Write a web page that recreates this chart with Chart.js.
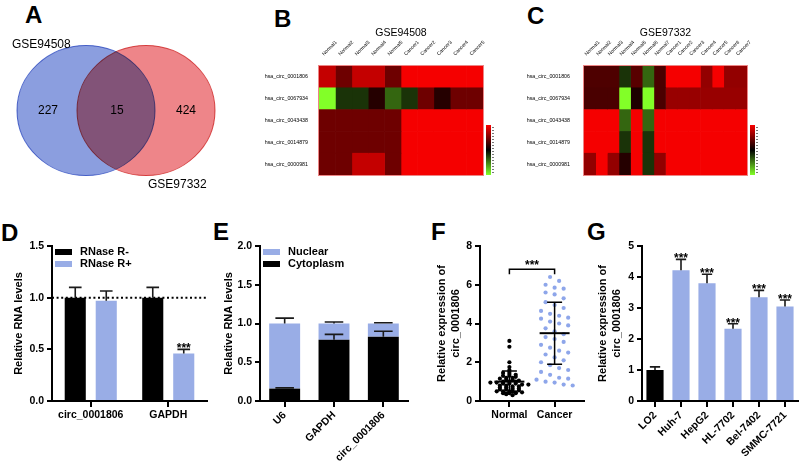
<!DOCTYPE html>
<html><head><meta charset="utf-8">
<script src="https://cdn.jsdelivr.net/npm/chart.js@4.4.0/dist/chart.umd.min.js"></script>
<style>
html,body{margin:0;padding:0;background:#fff;width:800px;height:467px;overflow:hidden;}
body{position:relative;font-family:"Liberation Sans",Arial,Helvetica,sans-serif;}
canvas{position:absolute;}
.lbl{position:absolute;font:bold 24px "Liberation Sans",Arial,sans-serif;color:#000;line-height:1;}
</style></head><body>
<div class="lbl" style="left:25px;top:3px">A</div>
<div class="lbl" style="left:274px;top:7px">B</div>
<div class="lbl" style="left:527px;top:4px">C</div>
<div class="lbl" style="left:1px;top:221px">D</div>
<div class="lbl" style="left:213px;top:220px">E</div>
<div class="lbl" style="left:431px;top:220px">F</div>
<div class="lbl" style="left:587px;top:220px">G</div>
<canvas id="cA" width="230" height="165" style="left:0;top:28px"></canvas>
<canvas id="cB" width="300" height="170" style="left:200px;top:20px"></canvas>
<canvas id="cC" width="320" height="170" style="left:480px;top:20px"></canvas>
<canvas id="cD" width="207" height="231" style="left:8px;top:236px"></canvas>
<canvas id="cE" width="192" height="231" style="left:218px;top:236px"></canvas>
<canvas id="cF" width="160" height="231" style="left:431px;top:236px"></canvas>
<canvas id="cG" width="208" height="231" style="left:592px;top:236px"></canvas>
<script>
// ---------------- DATA ----------------
// A: Venn
const vennSets = ['GSE94508', 'GSE97332'];
const vennCounts = [227, 15, 424];          // only-left, overlap, only-right

// B / C: heatmaps
const heatRows = ['hsa_circ_0001806','hsa_circ_0067934','hsa_circ_0043438','hsa_circ_0014879','hsa_circ_0000981'];
const heatColsB = ['Normal1','Normal2','Normal3','Normal4','Normal5','Cancer1','Cancer2','Cancer3','Cancer4','Cancer5'];
const heatB_0001806 = [0.8, 0.45, 0.8, 0.8, 0.45, 1, 1, 1, 1, 1];
const heatB_0067934 = [-1, -0.2, -0.2, 0.15, -0.4, -0.2, 0.45, 0.15, 0.45, 0.45];
const heatB_0043438 = [0.45, 0.45, 0.45, 0.45, 0.45, 1, 1, 1, 1, 1];
const heatB_0014879 = [0.45, 0.45, 0.45, 0.45, 0.45, 1, 1, 1, 1, 1];
const heatB_0000981 = [0.45, 0.45, 0.8, 0.8, 0.45, 1, 1, 1, 1, 1];
const heatColsC = ['Normal1','Normal2','Normal3','Normal4','Normal5','Normal6','Normal7','Cancer1','Cancer2','Cancer3','Cancer4','Cancer5','Cancer6','Cancer7'];
const heatC_0001806 = [0.32, 0.32, 0.32, -0.2, 0.36, -0.4, 0.3, 1, 1, 1, 0.6, 1, 0.6, 0.6];
const heatC_0067934 = [0.3, 0.3, 0.3, -1, 0.12, -1, 0.3, 0.62, 0.62, 0.62, 0.62, 0.62, 0.62, 0.62];
const heatC_0043438 = [1, 1, 1, -0.4, 1, -0.4, 1, 1, 1, 1, 1, 1, 1, 1];
const heatC_0014879 = [1, 1, 1, -0.2, 1, -0.2, 1, 1, 1, 1, 1, 1, 1, 1];
const heatC_0000981 = [0.6, 1, 0.6, 0.15, 1, -0.2, 0.6, 1, 1, 1, 1, 1, 1, 1];

// D: RNase R
const dGroups = ['circ_0001806', 'GAPDH'];
const dRnaseMinus = [1.00, 1.00];
const dRnaseMinusErr = [0.10, 0.10];
const dRnasePlus = [0.97, 0.46];
const dRnasePlusErr = [0.095, 0.04];
const dPlusStars = ['', '***'];

// E: subcellular fractionation
const eGenes = ['U6', 'GAPDH', 'circ_0001806'];
const eCytoplasm = [0.16, 0.79, 0.83];
const eCytoplasmErr = [0.01, 0.07, 0.07];
const eNuclear = [0.84, 0.21, 0.17];
const eNuclearErr = [0.07, 0.02, 0.01];

// F: tissues
const fGroups = ['Normal', 'Cancer'];
const fNormal = [3.1, 2.8, 2.0, 1.75, 1.6, 1.5, 1.45, 1.4, 1.35, 1.3, 1.3, 1.25, 1.2, 1.2, 1.15, 1.1, 1.1, 1.05, 1.0, 1.0,
  1.0, 0.95, 0.95, 0.9, 0.9, 0.9, 0.85, 0.85, 0.8, 0.8, 0.75, 0.75, 0.7, 0.7, 0.65, 0.65, 0.6, 0.6, 0.55, 0.55,
  0.5, 0.5, 0.5, 0.45, 0.45, 0.4, 0.4, 0.4, 0.35, 0.3];
const fCancer = [6.4, 6.2, 6.0, 5.85, 5.8, 5.6, 5.5, 5.3, 5.1, 4.95, 4.8, 4.65, 4.5, 4.4, 4.3, 4.25, 4.1, 4.0, 3.9, 3.75,
  3.6, 3.45, 3.3, 3.2, 3.05, 2.9, 2.75, 2.6, 2.5, 2.4, 2.25, 2.1, 2.0, 1.85, 1.7, 1.6, 1.5, 1.35, 1.2, 1.15,
  1.1, 1.0, 0.95, 0.85, 0.8];
const fMean = [1.0, 3.5];
const fSD = [0.55, 1.6];
const fBracket = 6.8;

// G: cell lines
const gLines = ['LO2', 'Huh-7', 'HepG2', 'HL-7702', 'Bel-7402', 'SMMC-7721'];
const gValues = [1.0, 4.22, 3.80, 2.33, 3.35, 3.05];
const gErrors = [0.10, 0.35, 0.29, 0.16, 0.22, 0.21];
const gStars = ['', '***', '***', '***', '***', '***'];

// ---------------- STYLE ----------------
const FONT = '"Liberation Sans", Arial, Helvetica, sans-serif';
const BLUE = '#99ade6';
const PBLUE = '#8ea6ea';
Chart.defaults.font.family = FONT;
Chart.defaults.color = '#000';
Chart.defaults.animation = false;
Chart.defaults.plugins.legend.display = false;
Chart.defaults.plugins.tooltip.enabled = false;

function heatColor(v) {
  if (v >= 0) return `rgb(${Math.round(245 * v)},0,0)`;
  const t = -v;
  return `rgb(${Math.round(130 * t)},${Math.round(255 * t)},${Math.round(40 * t)})`;
}

function yAxis(min, max, step, title, width, dec) {
  return {
    min, max,
    ticks: { stepSize: step, font: { size: 10.5, weight: 'bold' }, color: '#000', padding: 3,
      callback: v => v.toFixed(dec) },
    grid: { drawOnChartArea: false, color: '#000', tickColor: '#000', tickLength: 5, tickWidth: 2, lineWidth: 2 },
    border: { color: '#000', width: 2 },
    title: { display: true, text: title, font: { size: 11, weight: 'bold', lineHeight: 1.3 }, color: '#000', padding: { top: 4, bottom: 2 } },
    afterFit(ax) { ax.width = width; }
  };
}
function xCatAxis(rot, height) {
  return {
    offset: true,
    ticks: { font: { size: 10.5, weight: 'bold' }, color: '#000', padding: 2, autoSkip: false, minRotation: rot, maxRotation: rot },
    grid: { offset: false, drawOnChartArea: false, color: '#000', tickColor: '#000', tickLength: 6, tickWidth: 2, lineWidth: 2 },
    border: { color: '#000', width: 2 },
    afterFit(ax) { ax.height = height; }
  };
}

// error bars + stars
function errorBarsPlugin(errLists, starLists, stacked) {
  return {
    id: 'errbars',
    afterDatasetsDraw(chart) {
      const ctx = chart.ctx, ys = chart.scales.y;
      chart.data.datasets.forEach((ds, di) => {
        const errs = errLists[di];
        if (!errs) return;
        const meta = chart.getDatasetMeta(di);
        meta.data.forEach((bar, i) => {
          let top = ds.data[i];
          if (stacked) { top = 0; for (let k = 0; k <= di; k++) top += chart.data.datasets[k].data[i]; }
          const y0 = ys.getPixelForValue(top), y1 = ys.getPixelForValue(top + errs[i]);
          const half = bar.width * 0.3;
          ctx.save();
          ctx.strokeStyle = '#1a1a1a'; ctx.lineWidth = 1.6;
          ctx.beginPath();
          ctx.moveTo(bar.x, y0); ctx.lineTo(bar.x, y1);
          ctx.moveTo(bar.x - half, y1); ctx.lineTo(bar.x + half, y1);
          ctx.stroke();
          const s = starLists && starLists[di] ? starLists[di][i] : '';
          if (s) {
            ctx.fillStyle = '#000'; ctx.font = 'bold 12px ' + FONT;
            ctx.textAlign = 'center'; ctx.textBaseline = 'alphabetic';
            ctx.fillText(s, bar.x, y1 + 3);
          }
          ctx.restore();
        });
      });
    }
  };
}
function boxLegendPlugin(order) {
  return {
    id: 'boxlegend',
    afterDraw(chart) {
      const { ctx, chartArea: a } = chart;
      ctx.save();
      order.forEach((di, k) => {
        const ds = chart.data.datasets[di];
        const y = a.top + 6 + k * 12;
        ctx.fillStyle = ds.backgroundColor;
        ctx.fillRect(a.left + 3, y - 3, 17, 6);
        ctx.fillStyle = '#000'; ctx.font = 'bold 11px ' + FONT;
        ctx.textAlign = 'left'; ctx.textBaseline = 'middle';
        ctx.fillText(ds.label, a.left + 28, y);
      });
      ctx.restore();
    }
  };
}

// ---------------- A: Venn ----------------
const VENN_R = 69, VENN_SQUASH = 65 / 69;
const vennPlugin = {
  id: 'venn',
  beforeDatasetsDraw(chart) {
    const ctx = chart.ctx, cy = chart.scales.y.getPixelForValue(0);
    ctx.save(); ctx.translate(0, cy); ctx.scale(1, VENN_SQUASH); ctx.translate(0, -cy);
  },
  beforeDatasetDraw(chart) {
    chart.ctx.globalCompositeOperation = 'multiply';
  },
  afterDatasetDraw(chart) {
    chart.ctx.globalCompositeOperation = 'source-over';
  },
  afterDatasetsDraw(chart) {
    const ctx = chart.ctx;
    ctx.restore();
    ctx.globalCompositeOperation = 'source-over';
    const b = chart.getDatasetMeta(0).data[0], r = chart.getDatasetMeta(1).data[0];
    const rad = chart.data.datasets[0].data[0].r;
    const xs = [((b.x - rad) + (r.x - rad)) / 2, ((r.x - rad) + (b.x + rad)) / 2, ((b.x + rad) + (r.x + rad)) / 2];
    ctx.save();
    ctx.fillStyle = '#000'; ctx.font = '12px ' + FONT; ctx.textAlign = 'center'; ctx.textBaseline = 'middle';
    vennCounts.forEach((c, i) => ctx.fillText(String(c), xs[i] + 1, b.y));
    ctx.textAlign = 'left'; ctx.textBaseline = 'alphabetic';
    ctx.fillText(vennSets[0], b.x - rad - 5, b.y - 63);
    ctx.fillText(vennSets[1], r.x + 2, r.y + 77);
    ctx.restore();
  }
};
new Chart(document.getElementById('cA'), {
  type: 'bubble',
  data: { datasets: [
    { label: vennSets[0], data: [{ x: 0, y: 0, r: VENN_R }], backgroundColor: 'rgba(72,102,205,0.63)', borderColor: 'rgba(70,100,205,0.9)', borderWidth: 1, clip: false },
    { label: vennSets[1], data: [{ x: 1, y: 0, r: VENN_R }], backgroundColor: 'rgba(226,52,58,0.6)', borderColor: 'rgba(215,60,60,0.9)', borderWidth: 1, clip: false }
  ] },
  options: {
    responsive: false, devicePixelRatio: 1, layout: { padding: 0, autoPadding: false },
    scales: { x: { display: false, min: -1.4333, max: 2.4 }, y: { display: false, min: -1, max: 1 } }
  },
  plugins: [vennPlugin]
});

// ---------------- B / C: heatmaps ----------------
function heatmap(id, title, cols, matrix, yWidth, rightPad, labelPad) {
  const hmPlugin = {
    id: 'hm',
    afterDraw(chart) {
      const { ctx, chartArea: a } = chart;
      ctx.save();
      ctx.strokeStyle = 'rgba(235,120,120,0.9)'; ctx.lineWidth = 1;
      ctx.strokeRect(a.left - 0.5, a.top - 0.5, a.right - a.left + 1, a.bottom - a.top + 1);
      ctx.fillStyle = '#000'; ctx.font = '10.5px ' + FONT; ctx.textAlign = 'center'; ctx.textBaseline = 'middle';
      ctx.fillText(title, (a.left + a.right) / 2, a.top - 33);
      // colour key
      const x = a.right + 3, y0 = a.bottom - 50, h = 50;
      const g = ctx.createLinearGradient(0, y0, 0, y0 + h);
      g.addColorStop(0, 'rgb(250,0,0)'); g.addColorStop(0.5, 'rgb(0,0,0)'); g.addColorStop(1, 'rgb(130,255,40)');
      ctx.fillStyle = g; ctx.fillRect(x, y0, 5, h);
      ctx.fillStyle = '#777';
      for (let k = 0; k < 16; k++) ctx.fillRect(x + 6, y0 + 2 + k * 3, 2, 1);
      ctx.restore();
    }
  };
  return new Chart(document.getElementById(id), {
    type: 'bar',
    data: {
      labels: heatRows,
      datasets: cols.map((c, ci) => ({
        label: c,
        data: heatRows.map(() => 1),
        backgroundColor: heatRows.map((r, ri) => heatColor(matrix[ri][ci])),
        borderWidth: 0, barPercentage: 1, categoryPercentage: 1
      }))
    },
    options: {
      responsive: false, devicePixelRatio: 1, indexAxis: 'y',
      layout: { padding: { top: 0, left: 0, right: rightPad, bottom: 15 } },
      scales: {
        x: {
          type: 'linear', position: 'top', stacked: true, min: 0, max: cols.length,
          afterBuildTicks(ax) { ax.ticks = cols.map((c, i) => ({ value: i + 0.5 })); },
          ticks: { autoSkip: false, minRotation: 45, maxRotation: 45, font: { size: 5 }, color: '#000', padding: 1,
            callback: (v, i) => cols[i] },
          grid: { display: false }, border: { display: false },
          afterFit(ax) { ax.height = 46; }
        },
        y: {
          stacked: true, offset: true,
          ticks: { font: { size: 5.3 }, color: '#000', padding: labelPad },
          grid: { display: false }, border: { display: false },
          afterFit(ax) { ax.width = yWidth; }
        }
      }
    },
    plugins: [hmPlugin]
  });
}
heatmap('cB', 'GSE94508', heatColsB,
  [heatB_0001806, heatB_0067934, heatB_0043438, heatB_0014879, heatB_0000981], 119, 17, 3);
heatmap('cC', 'GSE97332', heatColsC,
  [heatC_0001806, heatC_0067934, heatC_0043438, heatC_0014879, heatC_0000981], 104, 53, 6);

// ---------------- D ----------------
const refLinePlugin = {
  id: 'refline',
  afterDatasetsDraw(chart) {
    const { ctx, chartArea: a } = chart;
    const y = chart.scales.y.getPixelForValue(1);
    ctx.save(); ctx.strokeStyle = '#000'; ctx.lineWidth = 2; ctx.setLineDash([2, 2.6]);
    ctx.beginPath(); ctx.moveTo(a.left, y); ctx.lineTo(a.right, y); ctx.stroke(); ctx.restore();
  }
};
new Chart(document.getElementById('cD'), {
  type: 'bar',
  data: { labels: dGroups, datasets: [
    { label: 'RNase R-', data: dRnaseMinus, backgroundColor: '#000', barPercentage: 0.68, categoryPercentage: 0.8 },
    { label: 'RNase R+', data: dRnasePlus, backgroundColor: BLUE, barPercentage: 0.68, categoryPercentage: 0.8 }
  ] },
  options: {
    responsive: false, devicePixelRatio: 1,
    layout: { padding: { top: 10, right: 8, left: 0, bottom: 0 } },
    scales: { x: xCatAxis(0, 66), y: yAxis(0, 1.5, 0.5, 'Relative RNA levels', 44, 1) }
  },
  plugins: [refLinePlugin, errorBarsPlugin([dRnaseMinusErr, dRnasePlusErr], [null, dPlusStars], false), boxLegendPlugin([0, 1])]
});

// ---------------- E ----------------
new Chart(document.getElementById('cE'), {
  type: 'bar',
  data: { labels: eGenes, datasets: [
    { label: 'Cytoplasm', data: eCytoplasm, backgroundColor: '#000', barPercentage: 0.66, categoryPercentage: 0.95 },
    { label: 'Nuclear', data: eNuclear, backgroundColor: BLUE, barPercentage: 0.66, categoryPercentage: 0.95 }
  ] },
  options: {
    responsive: false, devicePixelRatio: 1,
    layout: { padding: { top: 10, right: 2, left: 0, bottom: 0 } },
    scales: {
      x: Object.assign(xCatAxis(45, 66), { stacked: true }),
      y: Object.assign(yAxis(0, 2.0, 0.5, 'Relative RNA levels', 42, 1), { stacked: true })
    }
  },
  plugins: [errorBarsPlugin([eCytoplasmErr, eNuclearErr], null, true), boxLegendPlugin([1, 0])]
});

// ---------------- F ----------------
function swarmOffsets(vals, bin, step) {
  const groups = {};
  vals.forEach((v, i) => { const k = Math.round(v / bin); (groups[k] = groups[k] || []).push(i); });
  const off = new Array(vals.length).fill(0);
  Object.values(groups).forEach(idx => {
    const n = idx.length;
    idx.forEach((id, j) => { off[id] = (j - (n - 1) / 2) * step; });
  });
  return off;
}
const offN = swarmOffsets(fNormal, 0.1, 0.14);
const offC = swarmOffsets(fCancer, 0.45, 0.2);
const fSummaryPlugin = {
  id: 'fsum',
  afterDatasetsDraw(chart) {
    const { ctx } = chart, xs = chart.scales.x, ys = chart.scales.y;
    ctx.save(); ctx.strokeStyle = '#000';
    fGroups.forEach((g, i) => {
      const x = xs.getPixelForValue(i);
      const ym = ys.getPixelForValue(fMean[i]), yt = ys.getPixelForValue(fMean[i] + fSD[i]), yb = ys.getPixelForValue(fMean[i] - fSD[i]);
      ctx.lineWidth = 2;
      ctx.beginPath(); ctx.moveTo(x - 15, ym); ctx.lineTo(x + 15, ym); ctx.stroke();
      ctx.lineWidth = 1.5;
      ctx.beginPath();
      ctx.moveTo(x, yt); ctx.lineTo(x, yb);
      ctx.moveTo(x - 7.5, yt); ctx.lineTo(x + 7.5, yt);
      ctx.moveTo(x - 7.5, yb); ctx.lineTo(x + 7.5, yb);
      ctx.stroke();
    });
    const x0 = xs.getPixelForValue(0), x1 = xs.getPixelForValue(1), yb = ys.getPixelForValue(fBracket);
    ctx.lineWidth = 1.5;
    ctx.beginPath(); ctx.moveTo(x0, yb + 5); ctx.lineTo(x0, yb); ctx.lineTo(x1, yb); ctx.lineTo(x1, yb + 5); ctx.stroke();
    ctx.fillStyle = '#000'; ctx.font = 'bold 12px ' + FONT; ctx.textAlign = 'center'; ctx.textBaseline = 'alphabetic';
    ctx.fillText('***', (x0 + x1) / 2, yb);
    ctx.restore();
  }
};
new Chart(document.getElementById('cF'), {
  type: 'scatter',
  data: { datasets: [
    { label: fGroups[0], data: fNormal.map((v, i) => ({ x: 0 + offN[i], y: v })), backgroundColor: '#000', borderWidth: 0, pointRadius: 2.1 },
    { label: fGroups[1], data: fCancer.map((v, i) => ({ x: 1 + offC[i], y: v })), backgroundColor: PBLUE, borderWidth: 0, pointRadius: 2.1 }
  ] },
  options: {
    responsive: false, devicePixelRatio: 1,
    layout: { padding: { top: 10, right: 7, left: 0, bottom: 0 } },
    scales: {
      x: {
        type: 'linear', min: -0.65, max: 1.65,
        afterBuildTicks(ax) { ax.ticks = fGroups.map((g, i) => ({ value: i })); },
        ticks: { font: { size: 10.5, weight: 'bold' }, color: '#000', padding: 2, autoSkip: false, maxRotation: 0, minRotation: 0,
          callback: (v, i) => fGroups[i] },
        grid: { drawOnChartArea: false, color: '#000', tickColor: '#000', tickLength: 6, tickWidth: 2, lineWidth: 2 },
        border: { color: '#000', width: 2 },
        afterFit(ax) { ax.height = 66; }
      },
      y: yAxis(0, 8, 2, ['Relative expression of', 'circ_0001806'], 49, 0)
    }
  },
  plugins: [fSummaryPlugin]
});

// ---------------- G ----------------
new Chart(document.getElementById('cG'), {
  type: 'bar',
  data: { labels: gLines, datasets: [
    { label: 'circ_0001806', data: gValues,
      backgroundColor: ctx => ctx.dataIndex === 0 ? '#000' : BLUE,
      barPercentage: 0.66, categoryPercentage: 1 }
  ] },
  options: {
    responsive: false, devicePixelRatio: 1,
    layout: { padding: { top: 10, right: 2, left: 0, bottom: 0 } },
    scales: { x: xCatAxis(45, 66), y: yAxis(0, 5, 1, ['Relative expression of', 'circ_0001806'], 50, 0) }
  },
  plugins: [errorBarsPlugin([gErrors], [gStars], false)]
});
</script>
</body></html>
